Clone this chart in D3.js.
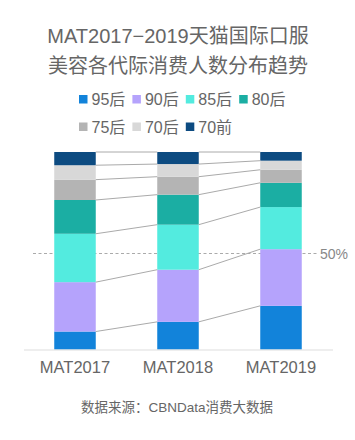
<!DOCTYPE html>
<html><head><meta charset="utf-8">
<script src="https://cdn.jsdelivr.net/npm/d3@7"></script>
<style>
html,body{margin:0;padding:0;background:#fff;}
svg{display:block;font-family:"Liberation Sans","Noto Sans CJK SC",sans-serif;}
</style></head>
<body>
<svg id="chart" width="355" height="440"></svg>
<script>
const titleLines = ["MAT2017−2019天猫国际口服", "美容各代际消费人数分布趋势"];
const categories = ["MAT2017", "MAT2018", "MAT2019"];
const seriesNames = ["95后", "90后", "85后", "80后", "75后", "70后", "70前"];
const seriesColors = ["#1283DA", "#B5A3FC", "#53EBDF", "#1BAEA3", "#B4B4B4", "#D8D8D8", "#0D4B81"];
const s95 = [9.1, 14.0, 22.1];
const s90 = [25.0, 26.4, 28.7];
const s85 = [24.5, 22.8, 21.3];
const s80 = [17.1, 15.2, 12.3];
const s75 = [10.3, 9.1, 6.6];
const s70 = [7.3, 6.4, 4.6];
const s70q = [6.7, 6.1, 4.4];
const refValue = 48.6;
const refLabel = "50%";
const sourceText = "数据来源：CBNData消费大数据";

const seriesValues = [s95, s90, s85, s80, s75, s70, s70q];
const rows = categories.map((c, i) => {
  const r = {cat: c};
  seriesNames.forEach((s, j) => r[s] = seriesValues[j][i]);
  return r;
});
const stacked = d3.stack().keys(seriesNames)(rows);

const svg = d3.select("#chart");
const textColor = "#666";

const x = d3.scaleBand().domain(categories).range([23.5, 332.5]).paddingInner(0.597).paddingOuter(0.2985);
const y = d3.scaleLinear().domain([0, 100]).range([349.5, 152]);
const color = d3.scaleOrdinal().domain(seriesNames).range(seriesColors);

// title
svg.append("g").selectAll("text").data(titleLines).join("text")
  .attr("x", 178).attr("y", (d, i) => 43 + i * 30)
  .attr("text-anchor", "middle").attr("font-size", 20).attr("fill", textColor)
  .text(d => d);

// legend
const legendRows = [seriesNames.slice(0, 4), seriesNames.slice(4)];
legendRows.forEach((row, ri) => {
  const g = svg.append("g").attr("transform", `translate(79,${99 + ri * 27.5})`);
  const items = g.selectAll("g").data(row).join("g")
    .attr("transform", (d, i) => `translate(${i * 53.4},0)`);
  items.append("rect").attr("x", 0).attr("y", -4).attr("width", 8.5).attr("height", 8.5)
    .attr("fill", d => color(d));
  items.append("text").attr("x", 12.5).attr("y", 6).attr("font-size", 16).attr("fill", textColor).text(d => d);
});

// reference line
svg.append("line").attr("x1", 33).attr("x2", 318).attr("y1", y(refValue)).attr("y2", y(refValue))
  .attr("stroke", "#aaa").attr("stroke-width", 1).attr("stroke-dasharray", "3,2.5");
svg.append("text").attr("x", 320).attr("y", y(refValue) + 5).attr("font-size", 14).attr("fill", "#888").text(refLabel);

// bars
svg.append("g").selectAll("g").data(stacked).join("g")
  .attr("fill", d => color(d.key))
  .selectAll("rect").data(d => d).join("rect")
  .attr("x", d => x(d.data.cat)).attr("width", x.bandwidth())
  .attr("y", d => y(d[1])).attr("height", d => y(d[0]) - y(d[1]));

// connector lines
const conn = [];
stacked.forEach(layer => {
  for (let i = 0; i < categories.length - 1; i++) {
    conn.push({x1: x(categories[i]) + x.bandwidth(), y1: y(layer[i][1]), x2: x(categories[i + 1]), y2: y(layer[i + 1][1])});
  }
});
svg.append("g").selectAll("line").data(conn).join("line")
  .attr("x1", d => d.x1).attr("y1", d => d.y1).attr("x2", d => d.x2).attr("y2", d => d.y2)
  .attr("stroke", "#aaa").attr("stroke-width", 1);

// x axis
const xAxis = svg.append("g").attr("transform", `translate(0,${y(0)})`).call(d3.axisBottom(x).tickSize(0).tickPadding(12));
xAxis.select(".domain").attr("stroke", "#ddd").attr("stroke-width", 1);
xAxis.selectAll("text").attr("font-size", 16.5).attr("fill", textColor)
  .attr("font-family", "Liberation Sans, Noto Sans CJK SC, sans-serif");

// source
svg.append("text").attr("x", 177).attr("y", 412).attr("text-anchor", "middle")
  .attr("font-size", 13.5).attr("fill", textColor).text(sourceText);
</script>
</body></html>
